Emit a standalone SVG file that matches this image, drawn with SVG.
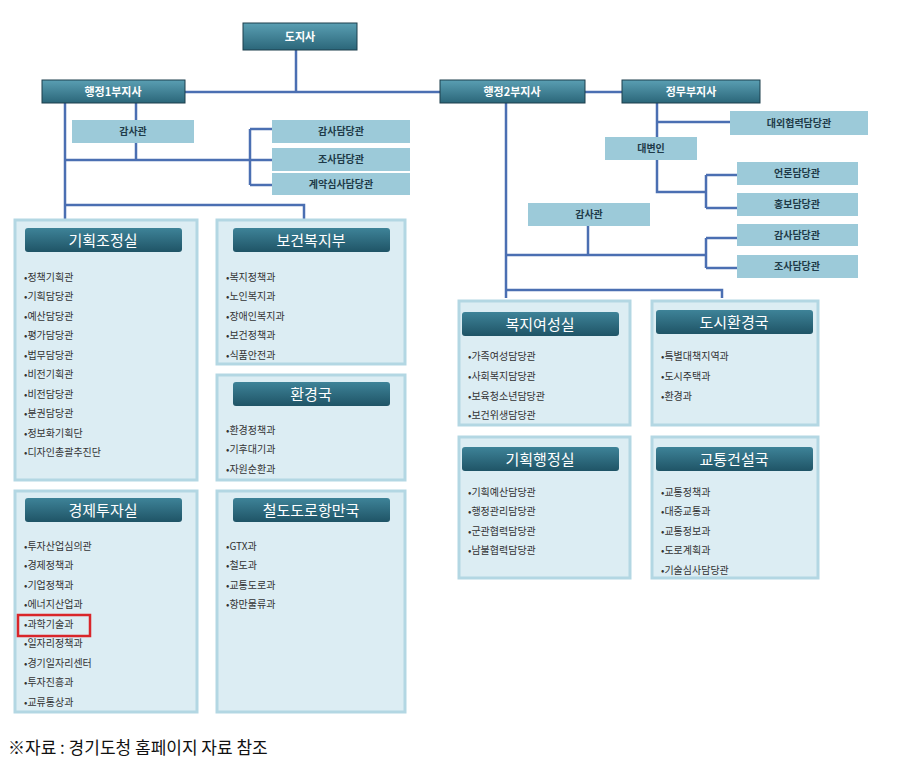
<svg xmlns="http://www.w3.org/2000/svg" width="916" height="771" viewBox="0 0 916 771">
<style>
text{font-family:"Noto Sans CJK KR","Noto Sans",sans-serif}
.top{fill:url(#tg);stroke:#1d3f4c;stroke-width:1}
.tt{fill:#fff;font-size:11px;font-weight:bold;text-anchor:middle}
.lb{fill:#9ccad9}
.lt{fill:#1e3a48;font-size:10px;font-weight:bold;text-anchor:middle}
.pn{fill:#dcedf3;stroke:#b3d7e3;stroke-width:3}
.hd{fill:url(#hg)}
.ht{fill:#fff;font-size:15px;text-anchor:middle}
.it{fill:#333;font-size:10px}
.ln{stroke:#4b6fb2;stroke-width:2.5;fill:none}
</style>
<defs>
<linearGradient id="tg" x1="0" y1="0" x2="0" y2="1"><stop offset="0" stop-color="#5a9fb3"/><stop offset="1" stop-color="#2b6679"/></linearGradient>
<linearGradient id="hg" x1="0" y1="0" x2="0" y2="1"><stop offset="0" stop-color="#3e8398"/><stop offset="1" stop-color="#1f5466"/></linearGradient>
</defs>
<rect width="916" height="771" fill="#fff"/>
<g id="connectors" class="ln">
<path d="M296 50V92M185 92H440M585 92H622"/>
<path d="M65 103V222M136 103V120M136 143V160M65 160H272M250 129V185M250 129H272M250 185H272M65 205H304V222"/>
<path d="M506 103V298M506 290H722V298M657 103V137M657 122H730M657 160V192H706M706 175V208M706 175H737M706 208H737M588 226V255M506 255H706M706 238V268M706 238H737M706 268H737"/>
</g>
<g id="n-doji"><rect class="top" x="243" y="23" width="114" height="27"/><text class="tt" x="300" y="41">도지사</text></g>
<g id="n-h1"><rect class="top" x="42" y="80" width="143" height="23"/><text class="tt" x="113" y="96">행정1부지사</text></g>
<g id="n-h2"><rect class="top" x="440" y="80" width="145" height="23"/><text class="tt" x="512" y="96">행정2부지사</text></g>
<g id="n-jm"><rect class="top" x="622" y="80" width="138" height="23"/><text class="tt" x="691" y="96">정무부지사</text></g>
<g id="n-gs1"><rect class="lb" x="72" y="120" width="122" height="23"/><text class="lt" x="133" y="135">감사관</text></g>
<g id="n-gsd1"><rect class="lb" x="272" y="120" width="138" height="23"/><text class="lt" x="341" y="135">감사담당관</text></g>
<g id="n-jsd1"><rect class="lb" x="272" y="148" width="138" height="23"/><text class="lt" x="341" y="163">조사담당관</text></g>
<g id="n-gy"><rect class="lb" x="272" y="173" width="138" height="22"/><text class="lt" x="341" y="188">계약심사담당관</text></g>
<g id="n-dw"><rect class="lb" x="730" y="111" width="138" height="24"/><text class="lt" x="799" y="127">대외협력담당관</text></g>
<g id="n-db"><rect class="lb" x="605" y="137" width="92" height="23"/><text class="lt" x="651" y="152">대변인</text></g>
<g id="n-er"><rect class="lb" x="737" y="162" width="121" height="23"/><text class="lt" x="797" y="177">언론담당관</text></g>
<g id="n-hb"><rect class="lb" x="737" y="193" width="121" height="23"/><text class="lt" x="797" y="208">홍보담당관</text></g>
<g id="n-gs2"><rect class="lb" x="528" y="203" width="122" height="23"/><text class="lt" x="589" y="218">감사관</text></g>
<g id="n-gsd2"><rect class="lb" x="737" y="224" width="121" height="22"/><text class="lt" x="797" y="239">감사담당관</text></g>
<g id="n-jsd2"><rect class="lb" x="737" y="255" width="121" height="23"/><text class="lt" x="797" y="270">조사담당관</text></g>

<g id="p-gj"><rect class="pn" x="15" y="220" width="182" height="260"/><rect class="hd" x="25" y="228" width="157" height="24" rx="3"/><text class="ht" x="103" y="246">기획조정실</text>
<text class="it" x="24" y="281">•정책기획관</text><text class="it" x="24" y="300">•기획담당관</text><text class="it" x="24" y="320">•예산담당관</text><text class="it" x="24" y="339">•평가담당관</text><text class="it" x="24" y="359">•법무담당관</text><text class="it" x="24" y="378">•비전기획관</text><text class="it" x="24" y="398">•비전담당관</text><text class="it" x="24" y="417">•분권담당관</text><text class="it" x="24" y="437">•정보화기획단</text><text class="it" x="24" y="456">•디자인총괄추진단</text></g>
<g id="p-bg"><rect class="pn" x="217" y="220" width="188" height="144"/><rect class="hd" x="233" y="228" width="157" height="24" rx="3"/><text class="ht" x="311" y="246">보건복지부</text>
<text class="it" x="226" y="281">•복지정책과</text><text class="it" x="226" y="300">•노인복지과</text><text class="it" x="226" y="320">•장애인복지과</text><text class="it" x="226" y="339">•보건정책과</text><text class="it" x="226" y="359">•식품안전과</text></g>
<g id="p-hk"><rect class="pn" x="217" y="375" width="188" height="105"/><rect class="hd" x="233" y="382" width="157" height="24" rx="3"/><text class="ht" x="311" y="400">환경국</text>
<text class="it" x="226" y="434">•환경정책과</text><text class="it" x="226" y="453">•기후대기과</text><text class="it" x="226" y="473">•자원순환과</text></g>
<g id="p-gt"><rect class="pn" x="15" y="491" width="182" height="221"/><rect class="hd" x="25" y="498" width="157" height="24" rx="3"/><text class="ht" x="103" y="516">경제투자실</text>
<text class="it" x="24" y="550">•투자산업심의관</text><text class="it" x="24" y="569">•경제정책과</text><text class="it" x="24" y="589">•기업정책과</text><text class="it" x="24" y="608">•에너지산업과</text><text class="it" x="24" y="628">•과학기술과</text><text class="it" x="24" y="647">•일자리정책과</text><text class="it" x="24" y="667">•경기일자리센터</text><text class="it" x="24" y="686">•투자진흥과</text><text class="it" x="24" y="706">•교류통상과</text>
<rect x="18" y="615" width="72" height="21" fill="none" stroke="#d9262a" stroke-width="2.5"/></g>
<g id="p-cd"><rect class="pn" x="217" y="491" width="188" height="221"/><rect class="hd" x="233" y="498" width="157" height="24" rx="3"/><text class="ht" x="311" y="516">철도도로항만국</text>
<text class="it" x="226" y="550">•GTX과</text><text class="it" x="226" y="569">•철도과</text><text class="it" x="226" y="589">•교통도로과</text><text class="it" x="226" y="608">•항만물류과</text></g>

<g id="p-bj"><rect class="pn" x="459" y="301" width="171" height="124"/><rect class="hd" x="462" y="312" width="157" height="24" rx="3"/><text class="ht" x="540" y="330">복지여성실</text>
<text class="it" x="468" y="360">•가족여성담당관</text><text class="it" x="468" y="380">•사회복지담당관</text><text class="it" x="468" y="400">•보육청소년담당관</text><text class="it" x="468" y="419">•보건위생담당관</text></g>
<g id="p-ds"><rect class="pn" x="652" y="301" width="166" height="124"/><rect class="hd" x="656" y="310" width="157" height="24" rx="3"/><text class="ht" x="734" y="328">도시환경국</text>
<text class="it" x="661" y="360">•특별대책지역과</text><text class="it" x="661" y="380">•도시주택과</text><text class="it" x="661" y="400">•환경과</text></g>
<g id="p-gh"><rect class="pn" x="459" y="437" width="171" height="141"/><rect class="hd" x="462" y="447" width="157" height="24" rx="3"/><text class="ht" x="540" y="465">기획행정실</text>
<text class="it" x="468" y="496">•기획예산담당관</text><text class="it" x="468" y="515">•행정관리담당관</text><text class="it" x="468" y="535">•군관협력담당관</text><text class="it" x="468" y="554">•남불협력담당관</text></g>
<g id="p-gk"><rect class="pn" x="652" y="437" width="166" height="141"/><rect class="hd" x="656" y="447" width="157" height="24" rx="3"/><text class="ht" x="734" y="465">교통건설국</text>
<text class="it" x="661" y="496">•교통정책과</text><text class="it" x="661" y="515">•대중교통과</text><text class="it" x="661" y="535">•교통정보과</text><text class="it" x="661" y="554">•도로계획과</text><text class="it" x="661" y="574">•기술심사담당관</text></g>

<text x="8" y="754" font-size="17" fill="#111">※자료 : 경기도청 홈페이지 자료 참조</text>
</svg>
